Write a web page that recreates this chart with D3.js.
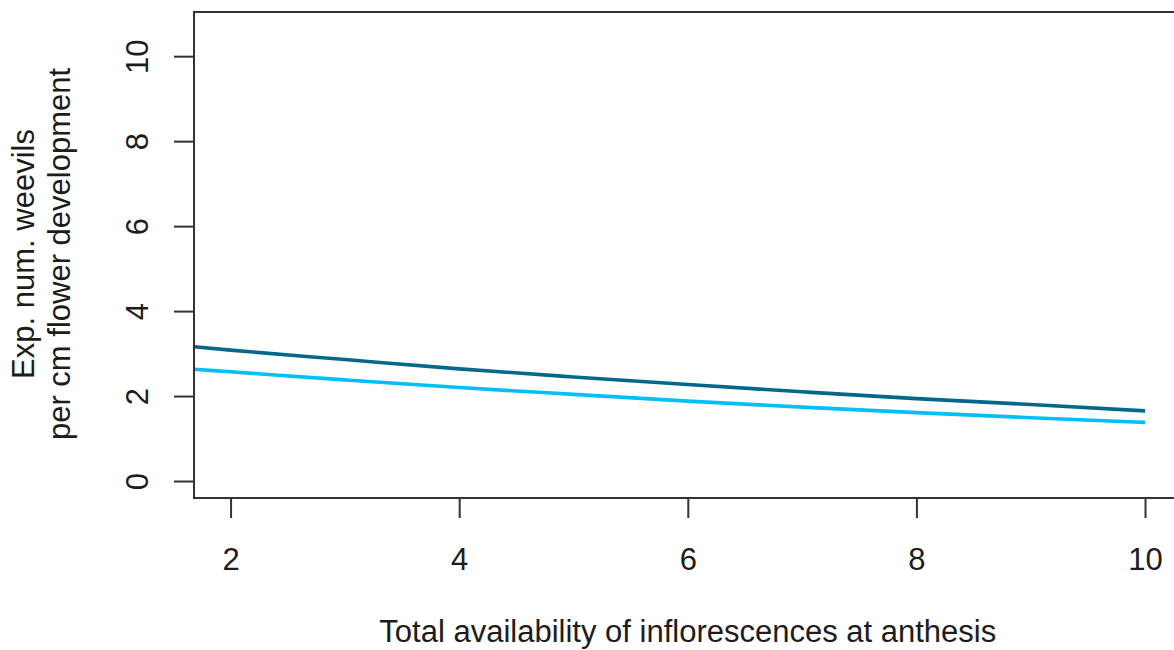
<!DOCTYPE html>
<html>
<head>
<meta charset="utf-8">
<script src="https://cdn.jsdelivr.net/npm/d3@7"></script>
<style>
  html, body { margin: 0; padding: 0; background: #ffffff; }
  svg { display: block; }
  text { font-family: "Liberation Sans", Arial, sans-serif; fill: #1c1c1c; }
</style>
</head>
<body>
<svg id="chart" width="1174" height="650"></svg>
<script>
// Predicted values along inflorescence availability
const availability = [1.68, 2, 3, 4, 5, 6, 7, 8, 9, 10];
const weevilsDark  = [3.16, 3.08, 2.86, 2.64, 2.45, 2.27, 2.10, 1.94, 1.80, 1.65];
const weevilsLight = [2.63, 2.57, 2.38, 2.20, 2.04, 1.88, 1.74, 1.61, 1.49, 1.38];
const xTicks = [2, 4, 6, 8, 10];
const yTicks = [0, 2, 4, 6, 8, 10];
const xTitle = "Total availability of inflorescences at anthesis";
const yTitleLines = ["Exp. num. weevils", "per cm flower development"];

const svg = d3.select("#chart");
const fontSize = 31;

const x = d3.scaleLinear().domain([1.68, 10.32]).range([194, 1181.6]);
const y = d3.scaleLinear().domain([-0.4, 11.04]).range([498, 12]);

const plotLeft = x.range()[0], plotRight = x.range()[1];
const plotTop = y.range()[1], plotBottom = y.range()[0];

svg.append("defs").append("clipPath").attr("id", "plotArea")
  .append("rect")
  .attr("x", plotLeft).attr("y", plotTop)
  .attr("width", plotRight - plotLeft).attr("height", plotBottom - plotTop);

// Curves
const line = d3.line()
  .x((d, i) => x(availability[i]))
  .y(d => y(d))
  .curve(d3.curveMonotoneX);

const series = [
  { values: weevilsDark, color: "#00688B" },
  { values: weevilsLight, color: "#00BFFF" }
];

svg.append("g").attr("clip-path", "url(#plotArea)")
  .selectAll("path")
  .data(series)
  .join("path")
  .attr("d", d => line(d.values))
  .attr("fill", "none")
  .attr("stroke", d => d.color)
  .attr("stroke-width", 3.6);

// Plot frame
svg.append("rect")
  .attr("x", plotLeft).attr("y", plotTop)
  .attr("width", plotRight - plotLeft).attr("height", plotBottom - plotTop)
  .attr("fill", "none")
  .attr("stroke", "#333333")
  .attr("stroke-width", 2);

// X axis
const gx = svg.append("g")
  .attr("transform", `translate(0,${plotBottom})`)
  .call(d3.axisBottom(x).tickValues(xTicks).tickSize(20).tickFormat(d3.format("d")));
gx.select(".domain").remove();
gx.selectAll(".tick line").attr("stroke", "#333333").attr("stroke-width", 2);
gx.selectAll(".tick text")
  .attr("y", 72).attr("dy", 0)
  .attr("fill", null);

// Y axis with rotated labels
const gy = svg.append("g")
  .attr("transform", `translate(${plotLeft},0)`)
  .call(d3.axisLeft(y).tickValues(yTicks).tickSize(20).tickFormat(d3.format("d")));
gy.select(".domain").remove();
gy.selectAll(".tick line").attr("stroke", "#333333").attr("stroke-width", 2);
gy.selectAll(".tick text")
  .attr("x", 0).attr("dy", 0)
  .attr("text-anchor", "middle")
  .attr("transform", "translate(-46,0) rotate(-90)")
  .attr("fill", null);

[gx, gy].forEach(g => g.attr("font-family", null).attr("font-size", fontSize));

// Axis titles
svg.append("text")
  .attr("x", x(6))
  .attr("y", 642)
  .attr("text-anchor", "middle")
  .attr("font-size", fontSize)
  .text(xTitle);

const yMid = (plotTop + plotBottom) / 2 - 1;
const titleBaselines = [34, 70];
svg.selectAll(".ytitle")
  .data(yTitleLines)
  .join("text")
  .attr("class", "ytitle")
  .attr("text-anchor", "middle")
  .attr("font-size", fontSize)
  .attr("transform", (d, i) => `translate(${titleBaselines[i]},${yMid}) rotate(-90)`)
  .text(d => d);
</script>
</body>
</html>
